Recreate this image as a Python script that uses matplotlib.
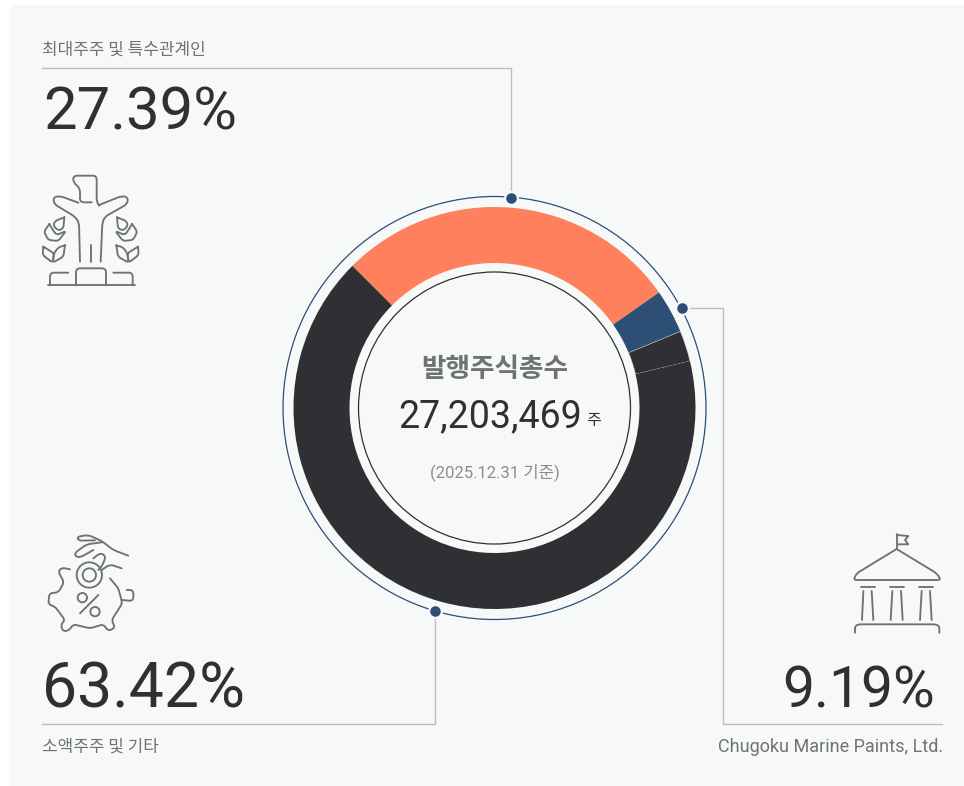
import numpy as np
import matplotlib
matplotlib.use('Agg')
from matplotlib import pyplot as plt
from matplotlib.patches import Circle, FancyBboxPatch, PathPatch
from matplotlib.path import Path

# donut slices (clockwise from the upper left)
slice_names = ['major', 'chugoku_a', 'chugoku_b', 'minor']
slice_values = [27.75, 3.53, 2.47, 66.25]
slice_colors = ['#ff805d', '#2d4f75', '#2e3033', '#2e3033']

labels = ['최대주주 및 특수관계인', '소액주주 및 기타', 'Chugoku Marine Paints, Ltd.']
percents = ['27.39%', '63.42%', '9.19%']
total_title = '발행주식총수'
total_value = '27,203,469'
total_unit = '주'
total_date = '(2025.12.31 기준)'

W, H = 964, 786
PANEL = '#f7f9f9'
DARK = '#2e3033'
GREY = '#6f7275'
NAVY = '#2d4f75'
RULE = '#bcbebe'
FONT = ['Roboto', 'Noto Sans CJK KR', 'DejaVu Sans']
KR_FONT = ['Noto Sans CJK KR', 'DejaVu Sans']

fig = plt.figure(figsize=(W / 100, H / 100), dpi=100, facecolor='white')
ax = fig.add_axes([0, 0, 1, 1])
ax.set_xlim(0, W)
ax.set_ylim(H, 0)
ax.axis('off')

ax.add_patch(FancyBboxPatch((12, 7), W, H, boxstyle='round,pad=2,rounding_size=2',
                            fc=PANEL, ec='none', zorder=0))

# donut gets its own axes so the pie runs on its own scale
cx, cy, r = 494.5, 408, 201
pie_ax = fig.add_axes([(cx - r) / W, (H - cy - r) / H, 2 * r / W, 2 * r / H])
wedges, _ = pie_ax.pie(slice_values, colors=slice_colors, startangle=135, counterclock=False,
                       radius=1, wedgeprops=dict(width=56 / 201, linewidth=0))
wedges[2].set_edgecolor('#c9cccc')
wedges[2].set_linewidth(0.4)
pie_ax.set_xlim(-1, 1)
pie_ax.set_ylim(-1, 1)

ax.add_patch(Circle((cx, cy), 211.5, fc='none', ec=NAVY, lw=0.9, zorder=2))
ax.add_patch(Circle((cx, cy), 136, fc='none', ec=DARK, lw=0.9, zorder=2))

# leader lines
ax.plot([42, 511, 511], [68, 68, 198], color=RULE, lw=1, zorder=1)
ax.plot([42, 435, 435], [724, 724, 611], color=RULE, lw=1, zorder=1)
ax.plot([682, 723, 723, 942], [308, 308, 724, 724], color=RULE, lw=1, zorder=1)
dots_x = [510.5, 682, 435]
dots_y = [198, 307.5, 611]
ax.scatter(dots_x, dots_y, s=85, color=NAVY, edgecolors=PANEL, linewidths=1.6, zorder=3)

# texts
ax.text(42, 49.5, labels[0], color=GREY, fontsize=12.2, family=KR_FONT, va='center', ha='left')
ax.text(43, 130, percents[0], color=DARK, fontsize=43, family=FONT, va='baseline', ha='left')
ax.text(42, 747, labels[1], color=GREY, fontsize=12.2, family=KR_FONT, va='center', ha='left')
ax.text(42, 708, percents[1], color=DARK, fontsize=45, family=FONT, va='baseline', ha='left')
ax.text(943, 752, labels[2], color=GREY, fontsize=13, family=FONT, va='baseline', ha='right')
ax.text(935, 708, percents[2], color=DARK, fontsize=41, family=FONT, va='baseline', ha='right')

ax.text(494.5, 369.5, total_title, color=GREY, fontsize=19.2, family=KR_FONT, weight='bold',
        va='center', ha='center')
ax.text(398, 427, total_value, color=DARK, fontsize=27, family=FONT, va='baseline', ha='left')
ax.text(586, 421, total_unit, color=DARK, fontsize=11.5, family=KR_FONT, va='center', ha='left')
ax.text(494.5, 472, total_date, color='#8a8d90', fontsize=12, family=FONT, va='center', ha='center')


def stroke(origin, pts, d=12):
    # icon outlines are given in 3x zoom coordinates around origin, corners get rounded by d
    pts = np.array(pts, dtype=float)
    verts = [pts[0]]
    codes = [Path.MOVETO]
    for i in range(1, len(pts) - 1):
        a, b = pts[i - 1] - pts[i], pts[i + 1] - pts[i]
        la, lb = np.hypot(*a), np.hypot(*b)
        verts += [pts[i] + a / la * min(d, la / 2), pts[i], pts[i] + b / lb * min(d, lb / 2)]
        codes += [Path.LINETO, Path.CURVE3, Path.CURVE3]
    verts.append(pts[-1])
    codes.append(Path.LINETO)
    verts = np.array(verts) / 3 + origin
    ax.add_patch(PathPatch(Path(verts, codes), fc='none', ec=GREY, lw=1.35,
                           capstyle='round', joinstyle='round', zorder=2))


def ring(origin, x, y, radius):
    ax.add_patch(Circle((origin[0] + x / 3, origin[1] + y / 3), radius / 3, fc='none', ec=GREY, lw=1.35))


# podium figure
o = (30, 160)
stroke(o, [(185, 127), (150, 127), (150, 84), (130, 68), (130, 47), (200, 47), (200, 125), (208, 137)])
stroke(o, [(145, 128), (90, 108), (70, 112), (72, 132), (135, 170), (147, 188), (150, 305)])
stroke(o, [(207, 135), (275, 108), (294, 112), (292, 132), (225, 170), (217, 188), (212, 305)])
stroke(o, [(182, 255), (182, 305)])
stroke(o, [(55, 376), (315, 376)])
stroke(o, [(60, 376), (60, 338), (115, 338)])
stroke(o, [(138, 376), (138, 325), (228, 325), (228, 376)])
stroke(o, [(250, 338), (308, 338), (308, 376)])
leaves = [[(103, 172), (75, 183), (70, 197), (85, 212), (100, 205), (103, 172)],
          [(58, 192), (42, 215), (55, 240), (85, 243), (108, 213), (80, 225), (70, 212), (58, 192)],
          [(40, 260), (38, 285), (68, 308), (72, 280), (40, 260)],
          [(105, 256), (85, 262), (72, 280), (68, 308), (100, 290), (105, 256)]]
for leaf in leaves:
    stroke(o, leaf, 8)
    stroke(o, [(364 - x, y) for x, y in leaf], 8)

# piggy bank
o = (30, 525)
ring(o, 178, 150, 38)
ring(o, 178, 150, 20)
stroke(o, [(295, 92), (250, 75), (215, 48), (175, 30), (142, 35), (145, 47), (195, 46)])
stroke(o, [(215, 52), (170, 58), (133, 85), (140, 97), (155, 95), (190, 75)])
stroke(o, [(190, 100), (212, 83), (228, 95), (215, 125), (205, 135)])
stroke(o, [(215, 135), (240, 118), (275, 130)])
stroke(o, [(120, 133), (95, 128), (85, 140), (102, 172), (85, 202), (58, 205), (55, 238), (75, 245),
           (105, 285), (92, 300), (100, 320), (118, 315), (130, 298), (180, 310), (220, 298),
           (235, 318), (255, 308), (245, 285), (277, 235), (265, 190), (240, 160)], 9)
stroke(o, [(275, 225), (310, 228), (310, 195), (290, 195)])
ring(o, 157, 218, 14)
ring(o, 195, 260, 14)
stroke(o, [(205, 210), (150, 265)])

# bank building
o = (840, 525)
stroke(o, [(170, 70), (170, 28)])
stroke(o, [(170, 30), (205, 33), (195, 45), (205, 58), (172, 58)], 1)
stroke(o, [(170, 72), (50, 145), (40, 165), (303, 165), (290, 145), (170, 72)], 10)
for bx in [62, 150, 238]:
    stroke(o, [(bx, 185), (bx + 42, 185)])
for x0, x1 in [(70, 66), (95, 100), (157, 152), (183, 188), (245, 240), (270, 275)]:
    stroke(o, [(x0, 198), (x1, 285)])
stroke(o, [(45, 323), (45, 298), (298, 298), (298, 323)], 18)

fig.savefig('out.png', dpi=100, facecolor='white')
